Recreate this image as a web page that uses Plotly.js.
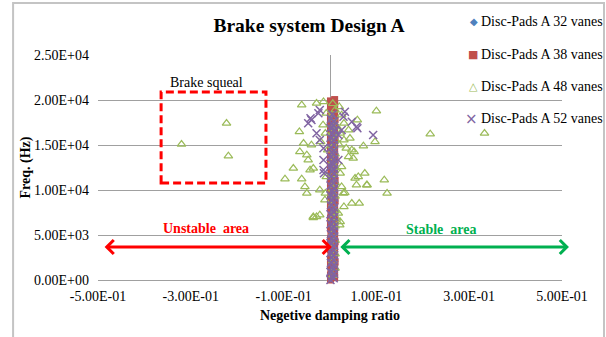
<!DOCTYPE html>
<html>
<head>
<meta charset="utf-8">
<script src="https://cdn.plot.ly/plotly-3.0.1.min.js"></script>
<style>html,body{margin:0;padding:0;background:#fff;}#chart{width:606px;height:337px;}</style>
</head>
<body>
<div id="chart"></div>
<script>
// ---- Data ----
var seriesNames = ['Disc-Pads A 32 vanes', 'Disc-Pads A 38 vanes', 'Disc-Pads A 48 vanes', 'Disc-Pads A 52 vanes'];
var seriesColors = ['#4F81BD', '#C0504D', '#9BBB59', '#8064A2'];
var legendGlyphs = ['\u25C6', '\u25A0', '\u25B3', '\u00D7'];

// 32 vanes (blue diamonds, hidden inside the column)
var v32x = [0.004, 0.006, 0.003, 0.005, 0.004, 0.006, 0.003, 0.005, 0.004, 0.006, 0.003, 0.005, 0.004, 0.006, 0.003, 0.005, 0.004, 0.006];
var v32y = [300, 1500, 2600, 3800, 4900, 6100, 7200, 8300, 9500, 10600, 11800, 12900, 14000, 15100, 16300, 17400, 18500, 19500];

// 38 vanes (red squares forming the column)
var v38x = [0.001, 0.010, 0.001, 0.010, 0.002, 0.010, 0.001, 0.011, 0.001, 0.010, 0.002, 0.010, 0.001, 0.010, 0.001, 0.011, 0.001, 0.010,
            0.002, 0.010, 0.001, 0.010, 0.001, 0.011, 0.001, 0.010, 0.002, 0.010, 0.001, 0.010, 0.001, 0.011, 0.001, 0.010, 0.002, 0.010,
            0.001, 0.010, 0.001, 0.011, 0.001, 0.010, 0.002, 0.010, 0.001, 0.010, 0.001, 0.011, 0.001, 0.010, 0.002, 0.010, 0.001, 0.010,
            0.001, 0.011, 0.001, 0.010, 0.002, 0.010, 0.001, 0.010, 0.001, 0.011, 0.001, 0.010, 0.002, 0.010, 0.001, 0.010, 0.001, 0.010];
var v38y = [0, 250, 550, 800, 1150, 1400, 1700, 2000, 2300, 2550, 2850, 3100, 3400, 3700, 4000, 4250, 4550, 4800,
            5100, 5400, 5700, 5950, 6250, 6500, 6800, 7100, 7400, 7650, 7950, 8200, 8500, 8800, 9100, 9350, 9650, 9900,
            10200, 10500, 10800, 11050, 11350, 11600, 11900, 12200, 12500, 12750, 13050, 13300, 13600, 13900, 14200, 14450, 14750, 15000,
            15300, 15600, 15900, 16150, 16450, 16700, 17000, 17300, 17600, 17850, 18150, 18400, 18700, 19000, 19300, 19600, 19900, 20050];

// 48 vanes (green open triangles)
var v48x = [-0.320, -0.223, -0.219,
            0.216, 0.333, 0.100, 0.097, 0.117, 0.123, 0.080,
            -0.061, -0.029, -0.014, -0.066, -0.057, -0.040, 0.059, 0.040, 0.043, 0.072, 0.035, 0.047, 0.052,
            -0.065, -0.050, -0.097, -0.079, -0.061, -0.043, -0.036, -0.047, -0.054, -0.050, -0.022, -0.011,
            0.054, 0.061, 0.075, 0.057, 0.079, 0.029, 0.025, 0.047, 0.063, -0.029, -0.036, -0.022, 0.018, 0.022,
            0.050, 0.040, -0.036, 0.014,
            0.020, 0.025, 0.030, 0.015, 0.022, 0.030, 0.020, -0.008, -0.015, -0.010, -0.020, -0.005,
            0.025, 0.022, -0.008, 0.030, -0.010, 0.021, 0.032,
            0.006, 0.011, 0.006, 0.011, 0.006, 0.011, 0.006, 0.011, 0.006, 0.011, 0.006, 0.011, 0.006,
            0.011, 0.006, 0.011, 0.006, 0.011, 0.006, 0.011, 0.006, 0.011, 0.006, 0.011, 0.006];
var v48y = [15074, 17407, 13778,
            16222, 16296, 18778, 15370, 11111, 9630, 10556,
            19444, 19630, 19815, 16481, 15185, 15000, 17778, 16667, 15741, 14889, 14630, 14444, 14259,
            14259, 13889, 11222, 12407, 11222, 12222, 12407, 13333, 10370, 9630, 10000, 8889,
            11296, 11481, 11852, 10556, 10556, 9630, 10370, 8519, 8519, 7037, 7037, 7222, 7407, 6481,
            13519, 13704, 6926, 6852,
            19259, 18333, 17407, 17037, 16296, 15556, 15000, 18519, 17222, 16296, 15370, 14444,
            12593, 11852, 11481, 8148, 9630, 6111, 9704,
            500, 1300, 2100, 2900, 3600, 4400, 5200, 6000, 6900, 7700, 8400, 9300, 10100,
            10800, 11700, 12500, 13200, 14000, 14800, 15600, 16400, 17200, 18000, 18900, 19600];

// 52 vanes (purple crosses)
var v52x = [-0.047, -0.040, -0.025, -0.022, 0.032, 0.029, 0.047, 0.057, 0.093, 0.011, 0.018, 0.025, -0.029, -0.022, -0.014,
            -0.014, -0.014, 0.018, -0.042, 0.004, -0.013, 0.059,
            0.001, 0.004, 0.001, 0.005, 0.002, 0.004, 0.001, 0.005, 0.001, 0.004, 0.002, 0.005, 0.001, 0.004, 0.001, 0.005, 0.002, 0.004,
            0.001, 0.005, 0.001, 0.004, 0.002, 0.005, 0.001, 0.004, 0.001, 0.005, 0.002, 0.004, 0.001, 0.005, 0.001, 0.004, 0.002, 0.005,
            0.008, 0.009, 0.008, 0.009, 0.008, 0.009, 0.008, 0.009, 0.008, 0.009, 0.008, 0.009, 0.008, 0.009, 0.008, 0.009, 0.008, 0.009,
            0.008, 0.009, 0.008, 0.009, 0.008, 0.009, 0.008, 0.009, 0.008, 0.009, 0.008, 0.009, 0.008, 0.009, 0.008, 0.009];
var v52y = [17407, 17778, 18519, 18889, 18704, 18148, 17593, 17037, 16111, 16667, 16111, 16667, 16296, 15556, 14630,
            13333, 12222, 13333, 17963, 12963, 11852, 16852,
            0, 400, 900, 1400, 1900, 2500, 3000, 3500, 4100, 4600, 5100, 5700, 6200, 6700, 7300, 7800, 8300, 8900,
            9400, 9900, 10500, 11000, 11500, 12100, 12600, 13100, 13700, 14200, 14700, 15300, 15800, 16300, 16900, 17400, 17900, 18400,
            200, 700, 1200, 1700, 2200, 2750, 3250, 3800, 4300, 4850, 5400, 5950, 6450, 7000, 7550, 8050, 8600, 9150,
            9650, 10200, 10750, 11250, 11800, 12350, 12850, 13400, 13950, 14450, 15000, 15550, 16050, 16600, 17150, 17650];

var xTickVals = [-0.5, -0.3, -0.1, 0.1, 0.3, 0.5];
var xTickText = ['-5.00E-01', '-3.00E-01', '-1.00E-01', '1.00E-01', '3.00E-01', '5.00E-01'];
var yTickVals = [0, 5000, 10000, 15000, 20000, 25000];
var yTickText = ['0.00E+00', '5.00E+03', '1.00E+04', '1.50E+04', '2.00E+04', '2.50E+04'];

// ---- Chart ----
var serif = 'Liberation Serif';
var traces = [
  {x: v32x, y: v32y, name: seriesNames[0], type: 'scatter', mode: 'markers', cliponaxis: false,
   marker: {symbol: 'diamond', size: 7, color: seriesColors[0]}},
  {x: v38x, y: v38y, name: seriesNames[1], type: 'scatter', mode: 'markers', cliponaxis: false,
   marker: {symbol: 'square', size: 7, color: seriesColors[1]}},
  {x: v48x, y: v48y, name: seriesNames[2], type: 'scatter', mode: 'markers', cliponaxis: false,
   marker: {symbol: 'triangle-up-open', size: 7.5, color: seriesColors[2], line: {width: 1.2, color: seriesColors[2]}}},
  {x: v52x, y: v52y, name: seriesNames[3], type: 'scatter', mode: 'markers', cliponaxis: false,
   marker: {symbol: 'x-thin-open', size: 8, color: seriesColors[3], line: {width: 1.5, color: seriesColors[3]}}}
];

// legend drawn as annotations (tight symbol/text spacing like the original)
var legendYs = [1.1467, 1.0044, 0.8578, 0.7156];
var glyphSizes = [10, 11, 11, 15];
var legendAnn = [];
for (var i = 0; i < seriesNames.length; i++) {
  legendAnn.push({text: legendGlyphs[i], xref: 'paper', yref: 'paper', x: 0.824, y: legendYs[i],
    xanchor: 'right', yanchor: 'middle', showarrow: false,
    font: {family: 'DejaVu Sans', size: glyphSizes[i], color: seriesColors[i]}});
  legendAnn.push({text: seriesNames[i], xref: 'paper', yref: 'paper', x: 0.822, y: legendYs[i],
    xanchor: 'left', yanchor: 'middle', showarrow: false,
    font: {family: serif, size: 14, color: '#000'}});
}

var layout = {
  width: 606, height: 337,
  margin: {l: 98, r: 44, t: 55, b: 57, autoexpand: false},
  paper_bgcolor: '#ffffff', plot_bgcolor: '#ffffff',
  font: {family: serif, size: 14, color: '#000000'},
  showlegend: false,
  title: {text: '<b>Brake system Design A</b>', font: {family: serif, size: 19.5, color: '#000'},
          xref: 'container', x: 0.51, xanchor: 'center', yref: 'container', y: 0.925, yanchor: 'middle'},
  xaxis: {range: [-0.5, 0.5], tickvals: xTickVals, ticktext: xTickText, showgrid: false, automargin: false,
          zeroline: true, zerolinecolor: '#a0a0a0', zerolinewidth: 1, showline: false, ticks: '',
          ticklabelstandoff: 6, tickfont: {family: serif, size: 14, color: '#000'},
          title: {text: '<b>Negetive damping ratio</b>', font: {family: serif, size: 14, color: '#000'}, standoff: 7}},
  yaxis: {range: [0, 25000], tickvals: yTickVals, ticktext: yTickText, showgrid: true, gridcolor: '#a0a0a0', gridwidth: 1,
          automargin: false,
          zeroline: true, zerolinecolor: '#a0a0a0', zerolinewidth: 1, showline: false, ticks: '',
          ticklabelstandoff: 8, tickfont: {family: serif, size: 14, color: '#000'},
          title: {text: '<b>Freq. (Hz)</b>', font: {family: serif, size: 14, color: '#000'}, standoff: 0}},
  shapes: [
    {type: 'rect', xref: 'x', yref: 'y', x0: -0.364, x1: -0.138, y0: 10778, y1: 20889,
     line: {color: '#FF0000', width: 3, dash: '8px,4px'}, fillcolor: 'rgba(0,0,0,0)'},
    {type: 'rect', xref: 'paper', yref: 'paper', x0: -0.183, x1: 1.0905, y0: -0.35, y1: 1.231,
     line: {color: '#c4c4c4', width: 2}, fillcolor: 'rgba(0,0,0,0)', layer: 'below'}
  ],
  annotations: [
    {text: 'Brake squeal', x: -0.267, y: 22000, xref: 'x', yref: 'y', showarrow: false,
     font: {family: serif, size: 14, color: '#000'}},
    {text: '<b>Unstable\u00a0 area</b>', x: -0.268, y: 5778, xref: 'x', yref: 'y', showarrow: false,
     font: {family: serif, size: 14, color: '#FF0000'}},
    {text: '<b>Stable\u00a0 area</b>', x: 0.240, y: 5667, xref: 'x', yref: 'y', showarrow: false,
     font: {family: serif, size: 14, color: '#00B050'}},
    {text: '', x: 0.004, y: 3667, ax: -0.489, ay: 3667, xref: 'x', yref: 'y', axref: 'x', ayref: 'y',
     showarrow: true, arrowside: 'end+start', arrowhead: 4, startarrowhead: 4, arrowsize: 0.9, startarrowsize: 0.9,
     arrowwidth: 3, arrowcolor: '#FF0000', standoff: 0, startstandoff: 0},
    {text: '', x: 0.515, y: 3667, ax: 0.019, ay: 3667, xref: 'x', yref: 'y', axref: 'x', ayref: 'y',
     showarrow: true, arrowside: 'end+start', arrowhead: 4, startarrowhead: 4, arrowsize: 0.9, startarrowsize: 0.9,
     arrowwidth: 3, arrowcolor: '#00B050', standoff: 0, startstandoff: 0}
  ].concat(legendAnn)
};

Plotly.newPlot('chart', traces, layout, {displayModeBar: false, staticPlot: true});
</script>
</body>
</html>
